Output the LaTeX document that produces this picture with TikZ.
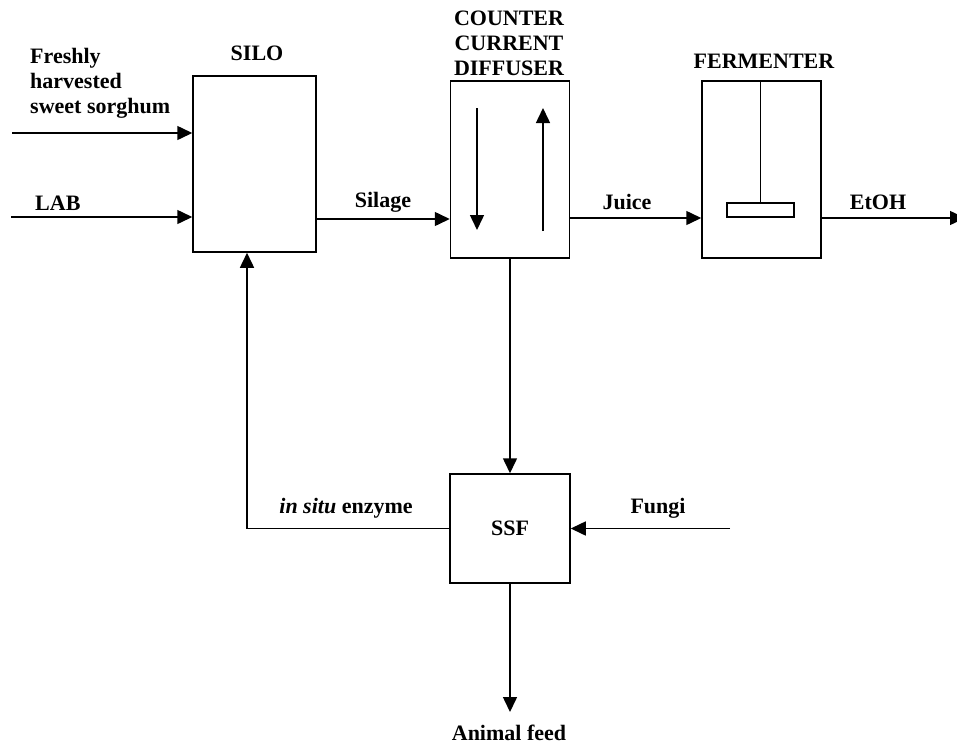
\documentclass[tikz,border=0pt]{standalone}
\usepackage{fontspec}
\setmainfont{Liberation Serif}
\usetikzlibrary{arrows.meta,positioning}

\begin{document}
\begin{tikzpicture}[x=1pt, y=-1pt, font=\fontsize{22}{25}\selectfont\bfseries, >={Triangle[length=15pt,width=14pt]},
  u/.style={draw, line width=1.5pt, inner sep=0pt},
  t/.style={inner sep=0pt, align=left},
  l/.style={line width=1.5pt}]
  \useasboundingbox (0,0) rectangle (957,744);
  % units
  \node[u, minimum width=123, minimum height=176] (silo) at (254.5,164) {};
  \node[u, minimum width=119, minimum height=177] (diff) at (510,169.5) {};
  \node[u, minimum width=119, minimum height=177] (ferm) at (761.5,169.5) {};
  \node[u, minimum width=120, minimum height=109] (ssf) at (510,528.5) {SSF};
  \node[u, line width=1.2pt, minimum width=67, minimum height=14] (pad) at (760.5,210) {};
  % titles and stream labels
  \node[t] (silot) at (257,53) {SILO};
  \node[t, align=center] (difft) at (509,43) {COUNTER\\CURRENT\\DIFFUSER};
  \node[t] (fermt) at (764,61) {FERMENTER};
  \node[t, anchor=west] (fresh) at (30,83) {Freshly\\harvested\\sweet sorghum};
  \node[t, anchor=west] (labt) at (35,203) {LAB};
  \node[t] (silt) at (383,202) {Silage};
  \node[t] (juit) at (627,202) {Juice};
  \node[t] (etot) at (878,202) {EtOH};
  \node[t] (enzt) at (346,508) {\textit{in situ} enzyme};
  \node[t] (fungt) at (658,508) {Fungi};
  \node[t] (feed) at (509,733) {Animal feed};
  \coordinate (fs) at (12,133);
  \coordinate (lab) at (11,217);
  \coordinate (eto) at (965,218);
  \coordinate (fung) at (730,528.5);
  \coordinate (feedend) at (510,712);
  % streams
  \draw[l,->] (fs) -- (fs -| silo.west);
  \draw[l,->] (lab) -- (lab -| silo.west);
  \draw[l,->] (silo.east |- 0,219) -- (diff.west |- 0,219);
  \draw[l,->] (diff.east |- 0,218) -- (ferm.west |- 0,218);
  \draw[l,->] (ferm.east |- eto) -- (eto);
  \draw[l,->] (diff) -- (ssf);
  \draw[l,->] (fung) -- (ssf.east);
  \draw[l,->] (ssf.west) -| ([xshift=-7.5pt]silo.south);
  \draw[l,->] (ssf.south) -- (feedend);
  % inside the diffuser and fermenter
  \draw[l,->] (477,108) -- (477,230);
  \draw[l,->] (543,231) -- (543,108);
  \draw[line width=1.2pt] (ferm.north -| pad) -- (pad.north);
\end{tikzpicture}
\end{document}
